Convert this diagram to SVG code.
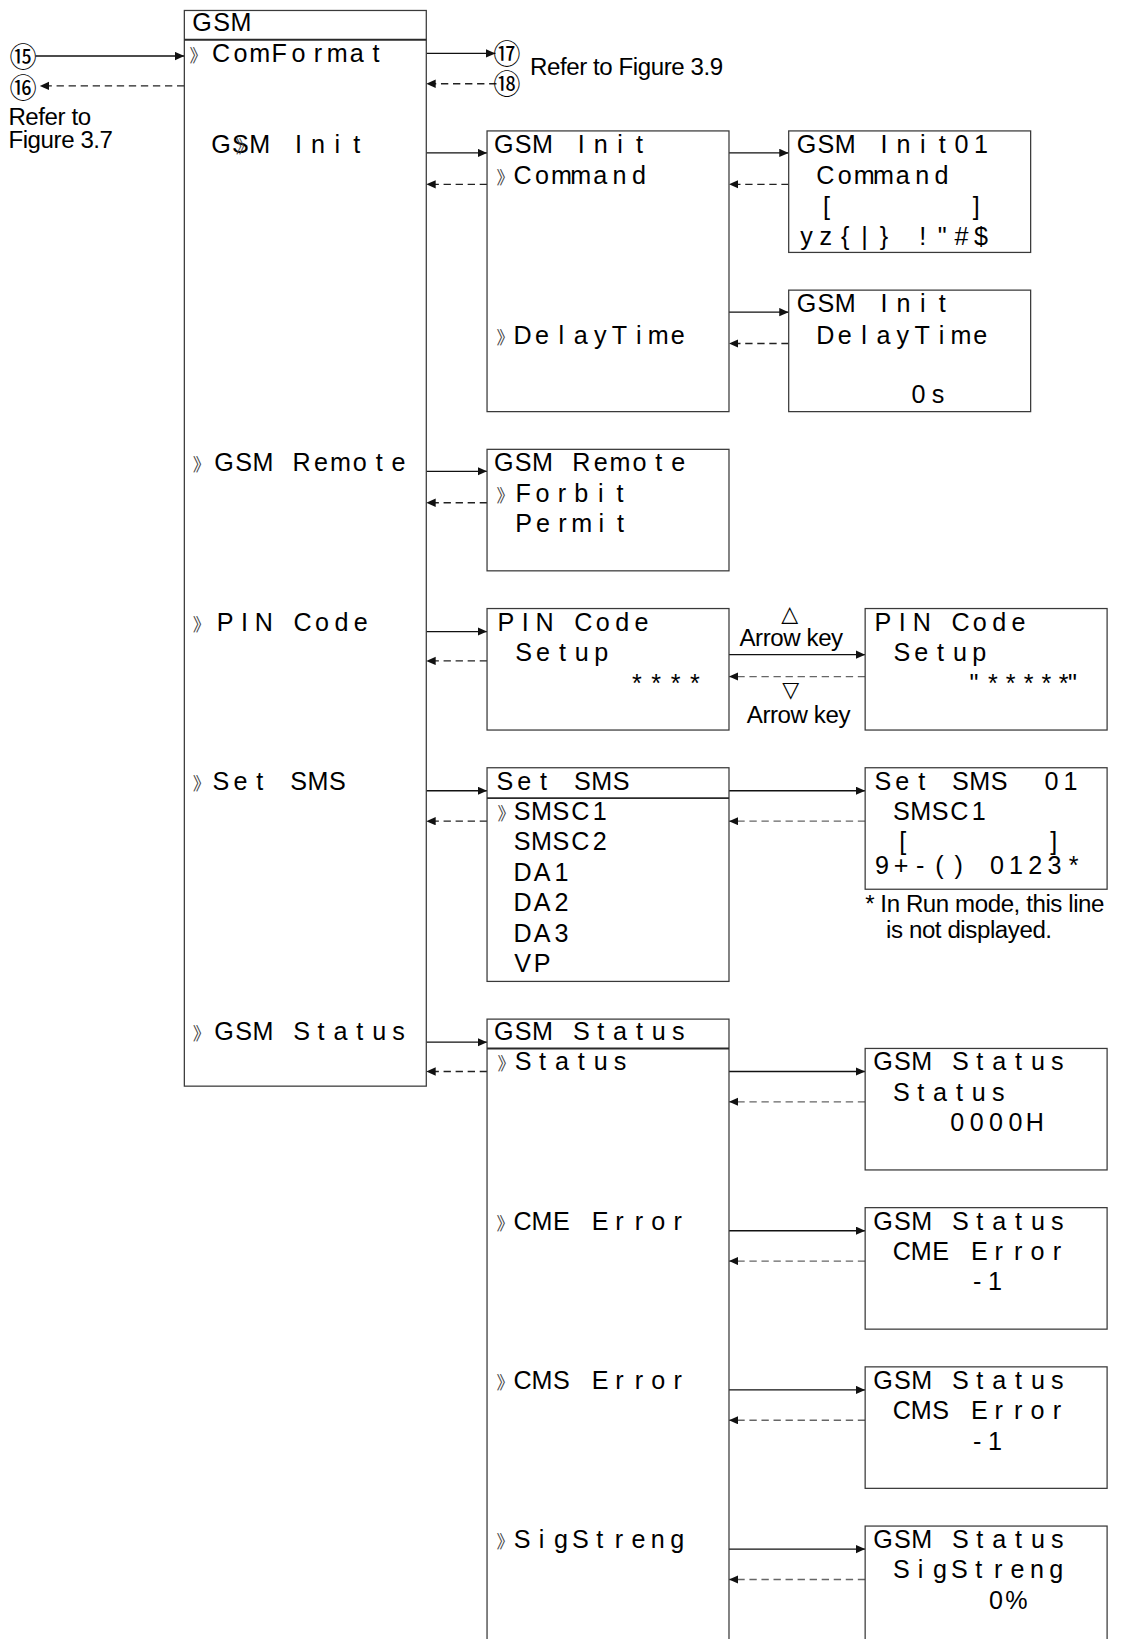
<svg xmlns="http://www.w3.org/2000/svg" width="1126" height="1639" viewBox="0 0 1126 1639">
<style>
.bg{fill:#fff}
.box{fill:#fff;stroke:#3a3a3a;stroke-width:1.2}
.sep{stroke:#2a2a2a;stroke-width:1.8}
.t{font-family:"Liberation Sans",Arial,sans-serif;font-size:24px;text-anchor:middle;fill:#000}
.n{font-family:"Liberation Sans",Arial,sans-serif;font-size:23px;letter-spacing:-0.4px;fill:#000}
.ch{font-family:"Noto Sans CJK JP",sans-serif;font-size:17px;fill:#444}
.c{font-family:"Noto Sans CJK JP",sans-serif;font-size:26px;text-anchor:middle;fill:#000}
.tri{font-family:"DejaVu Sans",sans-serif;font-size:21px;text-anchor:middle;fill:#000}
.sol{stroke:#111;stroke-width:1.3;fill:none;marker-end:url(#ah)}
.das{stroke:#222;stroke-width:1.3;fill:none;stroke-dasharray:7 4.5;marker-end:url(#ah)}
.dg{stroke:#666;stroke-width:1.3;fill:none;stroke-dasharray:7 4.5;marker-end:url(#ah)}
</style>
<defs>
<marker id="ah" markerUnits="userSpaceOnUse" markerWidth="10" markerHeight="9" refX="9" refY="4" orient="auto">
<path d="M0,0 L9,4 L0,8 z" fill="#111"/>
</marker>
</defs>
<rect class="bg" x="0" y="0" width="1126" height="1639"/>
<g transform="scale(1.0474)">

<g id="connectors">
<line class="sol" x1="34" y1="53.5" x2="176" y2="53.5"/>
<line class="das" x1="176" y1="82" x2="38" y2="82"/>
<line class="sol" x1="407" y1="51" x2="473" y2="51"/>
<line class="das" x1="474" y1="80" x2="407" y2="80"/>
<line class="sol" x1="407" y1="146" x2="465" y2="146"/>
<line class="das" x1="465" y1="176" x2="407" y2="176"/>
<line class="sol" x1="407" y1="450" x2="465" y2="450"/>
<line class="das" x1="465" y1="480" x2="407" y2="480"/>
<line class="sol" x1="407" y1="603" x2="465" y2="603"/>
<line class="das" x1="465" y1="631" x2="407" y2="631"/>
<line class="sol" x1="407" y1="755" x2="465" y2="755"/>
<line class="das" x1="465" y1="784" x2="407" y2="784"/>
<line class="sol" x1="407" y1="995" x2="465" y2="995"/>
<line class="das" x1="465" y1="1023" x2="407" y2="1023"/>
<line class="sol" x1="696" y1="146" x2="753" y2="146"/>
<line class="das" x1="753" y1="176" x2="696" y2="176"/>
<line class="sol" x1="696" y1="298" x2="753" y2="298"/>
<line class="das" x1="753" y1="328" x2="696" y2="328"/>
<line class="sol" x1="696" y1="625" x2="826" y2="625"/>
<line class="dg" x1="826" y1="646" x2="696" y2="646"/>
<line class="sol" x1="696" y1="755" x2="826" y2="755"/>
<line class="dg" x1="826" y1="784" x2="696" y2="784"/>
<line class="sol" x1="696" y1="1023" x2="826" y2="1023"/>
<line class="dg" x1="826" y1="1052" x2="696" y2="1052"/>
<line class="sol" x1="696" y1="1175" x2="826" y2="1175"/>
<line class="dg" x1="826" y1="1204" x2="696" y2="1204"/>
<line class="sol" x1="696" y1="1327" x2="826" y2="1327"/>
<line class="dg" x1="826" y1="1356" x2="696" y2="1356"/>
<line class="sol" x1="696" y1="1479" x2="826" y2="1479"/>
<line class="dg" x1="826" y1="1508" x2="696" y2="1508"/>
</g>

<g id="refs">
<text class="c" x="22" y="64.4">⑮</text>
<text class="c" x="22" y="93.4">⑯</text>
<text class="c" x="484" y="60.9">⑰</text>
<text class="c" x="484" y="89.9">⑱</text>
<text class="n" x="8" y="119">Refer to</text>
<text class="n" x="8" y="141">Figure 3.7</text>
<text class="n" x="506" y="72">Refer to Figure 3.9</text>
</g>

<g id="gsm-menu">
<rect class="box" x="176" y="10" width="231" height="1027"/>
<line class="sep" x1="176" y1="38" x2="407" y2="38"/>
<text class="t" x="193 211.5 230" y="30">GSM</text>
<text class="ch" x="181" y="59">》</text>
<text class="t" x="211 229.5 248 266.5 285 303.5 322 340.5 359" y="59">ComFormat</text>
<text class="t" xml:space="preserve" x="211 229.5 248 266.5 285 303.5 322 340.5" y="146">GSM Init</text>
<text class="ch" x="225" y="146">》</text>
<text class="ch" x="184" y="450">》</text>
<text class="t" xml:space="preserve" x="214 232.5 251 269.5 288 306.5 325 343.5 362 380.5" y="450">GSM Remote</text>
<text class="ch" x="184" y="602">》</text>
<text class="t" xml:space="preserve" x="215 233.5 252 270.5 289 307.5 326 344.5" y="602">PIN Code</text>
<text class="ch" x="184" y="754">》</text>
<text class="t" xml:space="preserve" x="211 229.5 248 266.5 285 303.5 322" y="754">Set SMS</text>
<text class="ch" x="184" y="993">》</text>
<text class="t" xml:space="preserve" x="214 232.5 251 269.5 288 306.5 325 343.5 362 380.5" y="993">GSM Status</text>
</g>

<g id="gsm-init">
<rect class="box" x="465" y="125" width="231" height="268"/>
<text class="t" xml:space="preserve" x="481 499.5 518 536.5 555 573.5 592 610.5" y="146">GSM Init</text>
<text class="ch" x="474" y="176">》</text>
<text class="t" x="499 517.5 536 554.5 573 591.5 610" y="176">Command</text>
<text class="ch" x="474" y="328">》</text>
<text class="t" x="499 517.5 536 554.5 573 591.5 610 628.5 647" y="328">DelayTime</text>
</g>

<g id="gsm-init-01">
<rect class="box" x="753" y="125" width="231" height="116"/>
<text class="t" xml:space="preserve" x="770 788.5 807 825.5 844 862.5 881 899.5 918 936.5" y="146">GSM Init01</text>
<text class="t" x="788 806.5 825 843.5 862 880.5 899" y="176">Command</text>
<text class="t" xml:space="preserve" x="789 807 825 843 861 878 896 914 932" y="205">[       ]</text>
<text class="t" xml:space="preserve" x="770 788.5 807 825.5 844 862.5 881 899.5 918 936.5" y="234">yz{|} !"#$</text>
</g>

<g id="gsm-init-delay">
<rect class="box" x="753" y="277" width="231" height="116"/>
<text class="t" xml:space="preserve" x="770 788.5 807 825.5 844 862.5 881 899.5" y="298">GSM Init</text>
<text class="t" x="788 806.5 825 843.5 862 880.5 899 917.5 936" y="328">DelayTime</text>
<text class="t" x="877 895.5" y="385">0s</text>
</g>

<g id="gsm-remote">
<rect class="box" x="465" y="429" width="231" height="116"/>
<text class="t" xml:space="preserve" x="481 499.5 518 536.5 555 573.5 592 610.5 629 647.5" y="450">GSM Remote</text>
<text class="ch" x="474" y="479">》</text>
<text class="t" x="499.5 518 536.5 555 573.5 592" y="479">Forbit</text>
<text class="t" x="500 518.5 537 555.5 574 592.5" y="508">Permit</text>
</g>

<g id="pin-code">
<rect class="box" x="465" y="581" width="231" height="116"/>
<text class="t" xml:space="preserve" x="483 501.5 520 538.5 557 575.5 594 612.5" y="602">PIN Code</text>
<text class="t" x="500 518.5 537 555.5 574" y="631">Setup</text>
<text class="t" x="608 626.5 645 663.5" y="661">****</text>
</g>

<g id="arrow-keys">
<text class="tri" x="754" y="593">△</text>
<text class="n" x="706" y="617">Arrow key</text>
<text class="tri" x="755" y="665">▽</text>
<text class="n" x="713" y="690">Arrow key</text>
</g>

<g id="pin-code-setup">
<rect class="box" x="826" y="581" width="231" height="116"/>
<text class="t" xml:space="preserve" x="843 861.5 880 898.5 917 935.5 954 972.5" y="602">PIN Code</text>
<text class="t" x="861 879.5 898 916.5 935" y="631">Setup</text>
<text class="t" x="930 948 965 982 999 1015.5 1024" y="661">"*****"</text>
</g>

<g id="set-sms">
<rect class="box" x="465" y="733" width="231" height="204"/>
<line class="sep" x1="465" y1="762" x2="696" y2="762"/>
<text class="t" xml:space="preserve" x="482 500.5 519 537.5 556 574.5 593" y="754">Set SMS</text>
<text class="ch" x="475" y="783">》</text>
<text class="t" x="498.5 517 535.5 554 572.5" y="783">SMSC1</text>
<text class="t" x="498.5 517 535.5 554 572.5" y="812">SMSC2</text>
<text class="t" x="499 517.5 536" y="841">DA1</text>
<text class="t" x="499 517.5 536" y="870">DA2</text>
<text class="t" x="499 517.5 536" y="899">DA3</text>
<text class="t" x="499 517.5" y="928">VP</text>
</g>

<g id="set-sms-01">
<rect class="box" x="826" y="733" width="231" height="116"/>
<text class="t" xml:space="preserve" x="843 861.5 880 898.5 917 935.5 954 972.5 991 1004 1022" y="754">Set SMS  01</text>
<text class="t" x="860.5 879 897.5 916 934.5" y="783">SMSC1</text>
<text class="t" xml:space="preserve" x="862 880 898 916 934 952 970 988 1006" y="812">[       ]</text>
<text class="t" xml:space="preserve" x="842 860.3 878.6 896.9 915.2 933.5 951.8 970.1 988.4 1006.7 1025" y="834">9+-() 0123*</text>
<text class="n" x="826" y="871">* In Run mode, this line</text>
<text class="n" x="846" y="896">is not displayed.</text>
</g>

<g id="gsm-status">
<rect class="box" x="465" y="973" width="231" height="600"/>
<line class="sep" x1="465" y1="1001" x2="696" y2="1001"/>
<text class="t" xml:space="preserve" x="481 499.5 518 536.5 555 573.5 592 610.5 629 647.5" y="993">GSM Status</text>
<text class="ch" x="475" y="1022">》</text>
<text class="t" x="499.5 518 536.5 555 573.5 592" y="1022">Status</text>
<text class="ch" x="474" y="1174">》</text>
<text class="t" xml:space="preserve" x="499 517.5 536 554.5 573 591.5 610 628.5 647" y="1174">CME Error</text>
<text class="ch" x="474" y="1326">》</text>
<text class="t" xml:space="preserve" x="499 517.5 536 554.5 573 591.5 610 628.5 647" y="1326">CMS Error</text>
<text class="ch" x="474" y="1478">》</text>
<text class="t" x="498.5 517 535.5 554 572.5 591 609.5 628 646.5" y="1478">SigStreng</text>
</g>

<g id="status-status">
<rect class="box" x="826" y="1001" width="231" height="116"/>
<text class="t" xml:space="preserve" x="843 861.5 880 898.5 917 935.5 954 972.5 991 1009.5" y="1022">GSM Status</text>
<text class="t" x="860.5 879 897.5 916 934.5 953" y="1051">Status</text>
<text class="t" x="914 932.5 951 969.5 988" y="1080">0000H</text>
</g>

<g id="status-cme">
<rect class="box" x="826" y="1153" width="231" height="116"/>
<text class="t" xml:space="preserve" x="843 861.5 880 898.5 917 935.5 954 972.5 991 1009.5" y="1174">GSM Status</text>
<text class="t" xml:space="preserve" x="861 879.5 898 916.5 935 953.5 972 990.5 1009" y="1203">CME Error</text>
<text class="t" x="933 950" y="1232">-1</text>
</g>

<g id="status-cms">
<rect class="box" x="826" y="1305" width="231" height="116"/>
<text class="t" xml:space="preserve" x="843 861.5 880 898.5 917 935.5 954 972.5 991 1009.5" y="1326">GSM Status</text>
<text class="t" xml:space="preserve" x="861 879.5 898 916.5 935 953.5 972 990.5 1009" y="1355">CMS Error</text>
<text class="t" x="933 950" y="1384">-1</text>
</g>

<g id="status-sig">
<rect class="box" x="826" y="1457" width="231" height="116"/>
<text class="t" xml:space="preserve" x="843 861.5 880 898.5 917 935.5 954 972.5 991 1009.5" y="1478">GSM Status</text>
<text class="t" x="860.5 879 897.5 916 934.5 953 971.5 990 1008.5" y="1507">SigStreng</text>
<text class="t" x="951 970.5" y="1536">0%</text>
</g>

</g>
</svg>
